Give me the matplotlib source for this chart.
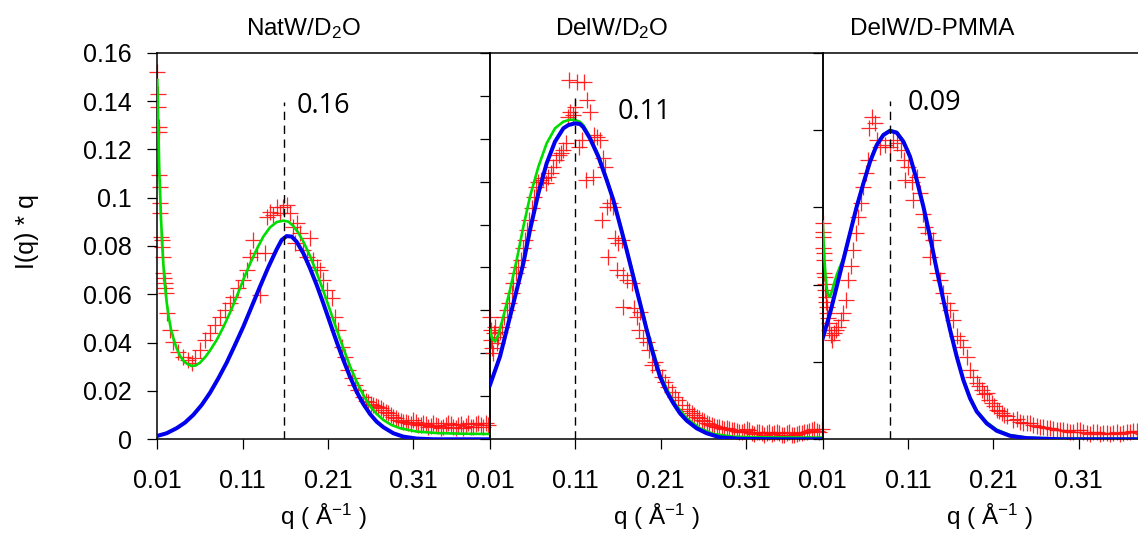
import matplotlib
matplotlib.use("Agg")
import matplotlib.pyplot as plt

plt.rcParams["font.family"] = ["Liberation Sans", "DejaVu Sans"]
plt.rcParams["mathtext.fontset"] = "custom"
plt.rcParams["mathtext.rm"] = "Liberation Sans"
plt.rcParams["mathtext.it"] = "Liberation Sans:italic"

# ---- NatW / D2O ----
natw_q = [0.010, 0.0108, 0.0112, 0.0116, 0.012, 0.0123, 0.0127, 0.0131, 0.0135, 0.0143,
          0.0151, 0.0155, 0.0163, 0.017, 0.0178, 0.0186, 0.0194, 0.0202, 0.0209, 0.0248,
          0.0288, 0.0346, 0.0405, 0.0463, 0.0503, 0.0542, 0.060, 0.0659, 0.0717, 0.0776,
          0.0835, 0.0893, 0.0952, 0.0991, 0.105, 0.1108, 0.1147, 0.1186, 0.1225, 0.1265,
          0.1304, 0.1362, 0.1382, 0.1421, 0.146, 0.150, 0.1538, 0.1577, 0.1616, 0.1655,
          0.1694, 0.1714, 0.1733, 0.1773, 0.1812, 0.1851, 0.189, 0.1929, 0.1968, 0.2007,
          0.2046, 0.2085, 0.2144, 0.2183, 0.2222, 0.2261, 0.230, 0.2339, 0.2378, 0.2417,
          0.2456, 0.2515, 0.2574, 0.2632, 0.2691, 0.275, 0.2808, 0.2867, 0.2925, 0.2984,
          0.3043, 0.3101, 0.316, 0.3218, 0.3277, 0.3336, 0.3394, 0.3453, 0.3512, 0.357,
          0.3629, 0.3687, 0.3746, 0.3805, 0.3863, 0.3922, 0.398,
          0.2545, 0.2603, 0.2662, 0.272, 0.2779, 0.2838, 0.2896, 0.2955, 0.3013, 0.3072,
          0.313, 0.3189, 0.3248, 0.3306, 0.3365, 0.3424, 0.3482, 0.3541, 0.360, 0.3658,
          0.3717, 0.3776, 0.3834, 0.3893, 0.3951]
natw_I = [0.152, 0.143, 0.1377, 0.1294, 0.1273, 0.1094, 0.1046, 0.0977, 0.0935, 0.0839,
          0.0825, 0.0797, 0.0756, 0.0687, 0.0666, 0.0646, 0.0625, 0.0604, 0.0521, 0.0452,
          0.0404, 0.0363, 0.0342, 0.0328, 0.0314, 0.0335, 0.037, 0.0411, 0.0439, 0.0473,
          0.0508, 0.0535, 0.0563, 0.059, 0.0625, 0.066, 0.0701, 0.0756, 0.0825, 0.077,
          0.0598, 0.0771, 0.0921, 0.0942, 0.0928, 0.0963, 0.0935, 0.0963, 0.097, 0.0935,
          0.088, 0.0811, 0.0894, 0.0852, 0.0783, 0.0756, 0.0832, 0.0742, 0.0714, 0.0701,
          0.066, 0.0618, 0.0583, 0.0508, 0.0452, 0.0383, 0.0342, 0.0287, 0.0252, 0.0225,
          0.0204, 0.0177, 0.0156, 0.0142, 0.0135, 0.0121, 0.0108, 0.0094, 0.008, 0.0073,
          0.0066, 0.008, 0.0059, 0.0066, 0.0052, 0.0066, 0.0055, 0.005, 0.0066, 0.0052,
          0.0059, 0.0046, 0.0066, 0.0052, 0.0069, 0.0052, 0.0059,
          0.016, 0.0148, 0.0138, 0.0128, 0.0112, 0.0102, 0.0088, 0.0076, 0.0071, 0.0062,
          0.0072, 0.0058, 0.0063, 0.0056, 0.006, 0.0048, 0.0058, 0.0062, 0.0048, 0.0062,
          0.0056, 0.0049, 0.0064, 0.0058, 0.0066]
natw_fit_q = [0.010, 0.0108, 0.0116, 0.0123, 0.0131, 0.0143, 0.0155, 0.017, 0.019, 0.0209,
              0.0233, 0.026, 0.0288, 0.0327, 0.0366, 0.0405, 0.0452, 0.0503, 0.0553, 0.060,
              0.0659, 0.0717, 0.0796, 0.0874, 0.0952, 0.103, 0.1108, 0.1186, 0.1265, 0.1343,
              0.1421, 0.1499, 0.1577, 0.1636, 0.1694, 0.1753, 0.1812, 0.189, 0.1968, 0.2046,
              0.2124, 0.2202, 0.2281, 0.2359, 0.2437, 0.2515, 0.2593, 0.2671, 0.275, 0.2847,
              0.2945, 0.314, 0.3375, 0.3687, 0.40]
natw_fit_I = [0.1487, 0.1349, 0.124, 0.1114, 0.1032, 0.0921, 0.0825, 0.0728, 0.0639, 0.057,
              0.0508, 0.0455, 0.0418, 0.0377, 0.0345, 0.0326, 0.0312, 0.0303, 0.0306, 0.0317,
              0.0339, 0.0367, 0.0411, 0.0464, 0.0524, 0.059, 0.066, 0.0726, 0.0786, 0.0839,
              0.0877, 0.0899, 0.0905, 0.0901, 0.0883, 0.0855, 0.0818, 0.0759, 0.0689, 0.0615,
              0.0535, 0.0455, 0.0376, 0.0303, 0.0239, 0.0183, 0.0138, 0.0105, 0.008, 0.0059,
              0.0046, 0.0032, 0.0026, 0.0023, 0.0022]
natw_peak_q = [0.010, 0.0209, 0.0327, 0.0424, 0.0522, 0.062, 0.0717, 0.0815, 0.0913, 0.101,
               0.1108, 0.1206, 0.1304, 0.1401, 0.1499, 0.1558, 0.1616, 0.1675, 0.1733, 0.1812,
               0.189, 0.1968, 0.2046, 0.2124, 0.2202, 0.2281, 0.2359, 0.2437, 0.2515, 0.2593,
               0.2671, 0.275, 0.2867, 0.2984, 0.314, 0.3336, 0.40]
natw_peak_I = [0.0014, 0.0025, 0.0046, 0.0069, 0.0101, 0.0142, 0.0192, 0.0252, 0.0317, 0.039,
               0.0466, 0.0549, 0.0632, 0.0712, 0.0786, 0.0825, 0.0841, 0.0839, 0.0818, 0.077,
               0.0708, 0.0639, 0.0563, 0.0483, 0.0404, 0.0328, 0.0259, 0.0197, 0.0146, 0.0105,
               0.0073, 0.005, 0.0025, 0.0011, 0.0003, 0.0, 0.0]

# ---- DelW / D2O ----
delw_q = [0.010, 0.0108, 0.0116, 0.0123, 0.0131, 0.0147, 0.0163, 0.0178, 0.0198, 0.0217,
          0.0237, 0.0264, 0.0295, 0.0327, 0.0354, 0.0374, 0.0405, 0.0432, 0.046, 0.0491,
          0.0514, 0.0538, 0.0561, 0.0588, 0.0616, 0.0639, 0.0667, 0.0694, 0.0725, 0.0757,
          0.0784, 0.0811, 0.0843, 0.0874, 0.0905, 0.0936, 0.096, 0.0991, 0.1014, 0.1038,
          0.103, 0.1069, 0.1096, 0.1124, 0.1147, 0.1175, 0.1202, 0.1225, 0.1241, 0.1272,
          0.1304, 0.1319, 0.135, 0.139, 0.1421, 0.1448, 0.1476, 0.1507, 0.1538, 0.1409,
          0.1565, 0.1605, 0.1644, 0.1487, 0.1585, 0.1663, 0.1702, 0.1761, 0.1663, 0.1788,
          0.182, 0.1859, 0.1851, 0.1898, 0.1937, 0.1968, 0.1995, 0.2034, 0.2073, 0.2113,
          0.2152, 0.2191, 0.223, 0.2269, 0.2308, 0.2347, 0.2406, 0.2464, 0.2523, 0.2581,
          0.264, 0.2699, 0.2757, 0.2816, 0.2875, 0.2933, 0.2992, 0.3051, 0.3109, 0.3168,
          0.3227, 0.3285, 0.3344, 0.3402, 0.3461, 0.352, 0.3578, 0.3637, 0.3696, 0.3754,
          0.3813, 0.3871, 0.393, 0.3989,
          0.2435, 0.2494, 0.2552, 0.2611, 0.267, 0.2728, 0.2787, 0.2845, 0.2904, 0.2963,
          0.3021, 0.308, 0.3139, 0.3197, 0.3256, 0.3315, 0.3373, 0.3432, 0.349, 0.3549,
          0.3608, 0.3666, 0.3725, 0.3784, 0.3842, 0.3901, 0.396]
delw_I = [0.0571, 0.0509, 0.0462, 0.0424, 0.040, 0.0493, 0.0525, 0.0447, 0.0478, 0.0501,
          0.0525, 0.0571, 0.0602, 0.0633, 0.068, 0.0726, 0.0773, 0.0804, 0.0835, 0.0889,
          0.0928, 0.0975, 0.1021, 0.1075, 0.113, 0.1176, 0.120, 0.1207, 0.1215, 0.1192,
          0.1223, 0.1238, 0.1269, 0.130, 0.1324, 0.1331, 0.1347, 0.1378, 0.1502, 0.1525,
          0.1673, 0.151, 0.1549, 0.1665, 0.1363, 0.1394, 0.1665, 0.1207, 0.158, 0.1525,
          0.1223, 0.1417, 0.1409, 0.1394, 0.1308, 0.1269, 0.1083, 0.1099, 0.1083, 0.1021,
          0.0936, 0.0912, 0.0928, 0.085, 0.0788, 0.0765, 0.0742, 0.0726, 0.0618, 0.061,
          0.0571, 0.0594, 0.0509, 0.047, 0.0455, 0.0416, 0.0346, 0.0362, 0.0323, 0.0292,
          0.0268, 0.0245, 0.0222, 0.0199, 0.0183, 0.016, 0.014, 0.0121, 0.0106, 0.009,
          0.0078, 0.0067, 0.0059, 0.0054, 0.0051, 0.0043, 0.004, 0.0036, 0.0047, 0.0031,
          0.0036, 0.0028, 0.0031, 0.0025, 0.0036, 0.002, 0.0028, 0.0019, 0.0025, 0.0031,
          0.0036, 0.0043, 0.004, 0.0047,
          0.013, 0.0114, 0.0098, 0.0084, 0.0072, 0.0062, 0.0057, 0.0049, 0.0046, 0.0044,
          0.0033, 0.0038, 0.0042, 0.0026, 0.0033, 0.0022, 0.0035, 0.0028, 0.003, 0.0022,
          0.0033, 0.0021, 0.0028, 0.0034, 0.0039, 0.0046, 0.0036]
delw_fit_q = [0.010, 0.0123, 0.0159, 0.0198, 0.0256, 0.0334, 0.0413, 0.0491, 0.0569, 0.0667,
              0.0764, 0.0862, 0.096, 0.1037, 0.1096, 0.1155, 0.1194, 0.1272, 0.137, 0.1468,
              0.1624, 0.178, 0.1937, 0.2093, 0.2249, 0.2406, 0.2562, 0.2718, 0.2953, 0.3304,
              0.40]
delw_fit_I = [0.0509, 0.047, 0.0455, 0.0486, 0.0571, 0.0695, 0.0835, 0.099, 0.113, 0.1269,
              0.1378, 0.1448, 0.1479, 0.1488, 0.1487, 0.1478, 0.1463, 0.1409, 0.1324, 0.1215,
              0.1006, 0.0765, 0.0517, 0.030, 0.0175, 0.0098, 0.0051, 0.0025, 0.0012, 0.0009,
              0.0008]
delw_peak_q = [0.010, 0.0217, 0.0374, 0.0491, 0.0569, 0.0667, 0.0764, 0.0862, 0.096, 0.1018,
               0.1096, 0.1155, 0.1194, 0.1272, 0.137, 0.1468, 0.1546, 0.1624, 0.1702, 0.178,
               0.1859, 0.1937, 0.2015, 0.2093, 0.2171, 0.2249, 0.2327, 0.2406, 0.2523, 0.264,
               0.2796, 0.3031, 0.350, 0.40]
delw_peak_I = [0.0253, 0.0385, 0.0633, 0.0819, 0.0975, 0.1145, 0.1285, 0.1386, 0.1448, 0.1463,
               0.1471, 0.1468, 0.1453, 0.1401, 0.1316, 0.1207, 0.1114, 0.0998, 0.0881, 0.0757,
               0.0633, 0.0509, 0.0393, 0.0292, 0.0222, 0.0168, 0.0121, 0.0087, 0.0051, 0.0028,
               0.0009, 0.0002, 0.0, 0.0]

# ---- DelW / D-PMMA ----
pmma_q = [0.010, 0.0104, 0.0108, 0.0108, 0.0112, 0.0116, 0.012, 0.0123, 0.0127, 0.0131,
          0.0135, 0.0139, 0.0147, 0.0155, 0.0163, 0.017, 0.0178, 0.0194, 0.0209, 0.0233,
          0.0256, 0.0284, 0.0311, 0.0342, 0.0374, 0.0401, 0.0428, 0.046, 0.0491, 0.0518,
          0.0546, 0.0577, 0.0608, 0.0635, 0.0674, 0.0647, 0.0714, 0.0733, 0.0772, 0.0831,
          0.0889, 0.0928, 0.0975, 0.1014, 0.1054, 0.1104, 0.1065, 0.1143, 0.1202, 0.1241,
          0.1163, 0.128, 0.130, 0.1339, 0.1397, 0.1358, 0.1437, 0.1476, 0.1515, 0.1554,
          0.1593, 0.1632, 0.1671, 0.171, 0.1749, 0.1788, 0.1827, 0.1866, 0.1905, 0.1964,
          0.2023, 0.2081, 0.214, 0.2199, 0.2257, 0.2335, 0.2414, 0.2492, 0.257, 0.2648,
          0.2726, 0.2804, 0.2882, 0.2961, 0.3039, 0.3117, 0.3195, 0.3273, 0.3351, 0.343,
          0.3508, 0.3586, 0.3664, 0.3742, 0.382, 0.3899, 0.3977,
          0.1935, 0.1994, 0.2052, 0.2111, 0.217, 0.2228,
          0.2374, 0.2453, 0.2531, 0.2609, 0.2687, 0.2765, 0.2843, 0.2921, 0.300, 0.3078,
          0.3156, 0.3234, 0.3312, 0.339, 0.3469, 0.3547, 0.3625, 0.3703, 0.3781, 0.386,
          0.3938]
pmma_I = [0.056, 0.0537, 0.0524, 0.0494, 0.0481, 0.0464, 0.0429, 0.0421, 0.0403, 0.0386,
          0.0369, 0.0356, 0.0343, 0.0326, 0.0313, 0.030, 0.0283, 0.027, 0.0257, 0.0274,
          0.0283, 0.0291, 0.0309, 0.0326, 0.036, 0.0412, 0.0447, 0.049, 0.0533, 0.0576,
          0.061, 0.0653, 0.0688, 0.0722, 0.0834, 0.0804, 0.0817, 0.0774, 0.0757, 0.0761,
          0.0757, 0.0774, 0.0766, 0.0748, 0.0722, 0.0705, 0.0671, 0.0666, 0.0679, 0.0636,
          0.0619, 0.0584, 0.055, 0.0533, 0.0516, 0.0472, 0.0429, 0.0412, 0.0378, 0.0352,
          0.0334, 0.0309, 0.0266, 0.0257, 0.024, 0.0214, 0.0179, 0.0162, 0.0145, 0.0128,
          0.0119, 0.0093, 0.0076, 0.0067, 0.0059, 0.005, 0.0046, 0.0041, 0.0037, 0.0033,
          0.0028, 0.0026, 0.0024, 0.0022, 0.002, 0.0024, 0.0017, 0.002, 0.0014, 0.0016,
          0.0017, 0.0013, 0.002, 0.0022, 0.0017, 0.0019, 0.0021,
          0.0138, 0.0118, 0.0102, 0.0086, 0.0072, 0.0063,
          0.0052, 0.0043, 0.0042, 0.0034, 0.0031, 0.003, 0.0023, 0.0025, 0.0019, 0.0023,
          0.002, 0.0015, 0.0019, 0.0017, 0.0013, 0.0019, 0.0016, 0.0018, 0.0021, 0.0015,
          0.0018]
pmma_fit_q = [0.010, 0.0116, 0.0131, 0.0147, 0.0166, 0.0186, 0.0209, 0.0233, 0.0264, 0.0303,
              0.0342, 0.042, 0.0499, 0.0577, 0.0655, 0.0733, 0.0811, 0.0889, 0.0968, 0.1046,
              0.1124, 0.1202, 0.128, 0.1358, 0.1437, 0.1515, 0.1593, 0.1671, 0.1749, 0.1827,
              0.1905, 0.2023, 0.214, 0.2296, 0.2492, 0.2882, 0.40]
pmma_fit_I = [0.0563, 0.0481, 0.0429, 0.0391, 0.0371, 0.0369, 0.0384, 0.0403, 0.0425, 0.0447,
              0.0468, 0.0534, 0.0603, 0.0664, 0.072, 0.0763, 0.0789, 0.080, 0.0795, 0.0772,
              0.0733, 0.0672, 0.0603, 0.0526, 0.044, 0.0362, 0.0284, 0.0216, 0.0155, 0.0109,
              0.0074, 0.0044, 0.0025, 0.0011, 0.0004, 0.0002, 0.0001]
pmma_peak_q = [0.010, 0.0186, 0.0264, 0.0342, 0.042, 0.0499, 0.0577, 0.0655, 0.0733, 0.0811,
               0.0889, 0.0968, 0.1046, 0.1124, 0.1202, 0.128, 0.1358, 0.1437, 0.1515, 0.1593,
               0.1671, 0.1749, 0.1827, 0.1905, 0.2023, 0.214, 0.2296, 0.2492, 0.2882, 0.40]
pmma_peak_I = [0.0261, 0.0326, 0.0395, 0.0464, 0.0533, 0.0602, 0.0662, 0.0718, 0.0761, 0.0787,
               0.0798, 0.0793, 0.077, 0.0731, 0.0671, 0.0602, 0.0524, 0.0438, 0.036, 0.0283,
               0.0214, 0.0153, 0.0106, 0.0072, 0.0041, 0.0022, 0.0009, 0.0003, 0.0, 0.0]

titles = [r"NatW/D$_2$O", r"DelW/D$_2$O", "DelW/D-PMMA"]
peak_pos = [0.158, 0.110, 0.089]
peak_labels = ["0.16", "0.11", "0.09"]
y_max = [0.16, 0.18, 0.10]
x_ticks = [0.01, 0.11, 0.21, 0.31]
y_tick_labels = ["0", "0.02", "0.04", "0.06", "0.08", "0.1", "0.12", "0.14", "0.16"]

data = [
    (natw_q, natw_I, natw_fit_q, natw_fit_I, natw_peak_q, natw_peak_I),
    (delw_q, delw_I, delw_fit_q, delw_fit_I, delw_peak_q, delw_peak_I),
    (pmma_q, pmma_I, pmma_fit_q, pmma_fit_I, pmma_peak_q, pmma_peak_I),
]

W, H = 1138, 537
fig = plt.figure(figsize=(W / 100, H / 100), dpi=100)

lefts = [157.3, 490.0, 822.7]
pw = 332.7
top, bottom = 52.7, 439.3
title_x = [0.438, 0.367, 0.3285]
# dashed line height and label position (fraction of y range)
dash_top = [0.873, 0.883, 0.875]
lab_x = [0.1734, 0.160, 0.1092]
lab_y = [0.845, 0.828, 0.852]

for i, (left, (q, I, fq, fI, gq, gI)) in enumerate(zip(lefts, data)):
    ax = fig.add_axes([left / W, 1 - bottom / H, pw / W, (bottom - top) / H])
    ax.set_facecolor("none")
    ymax = y_max[i]
    ax.plot(q, I, ls="none", marker="+", ms=11.5, mew=0.9, color="#ff1010",
            alpha=0.9, clip_on=False, zorder=2)
    ax.plot(fq, fI, color="#00dd00", lw=1.9, zorder=3)
    ax.plot(gq, gI, color="#0000ee", lw=2.9, zorder=4)
    ax.plot([peak_pos[i], peak_pos[i]], [0, dash_top[i] * ymax], color="black",
            lw=1.0, ls=(0, (6, 4)), zorder=5)
    ax.text(lab_x[i], lab_y[i] * ymax, peak_labels[i], fontsize=19.5,
            family=["Open Sans", "DejaVu Sans"], va="baseline", ha="left")

    ax.set_xlim(0.01, 0.40)
    ax.set_ylim(0, ymax)
    ax.set_xticks(x_ticks)
    ax.set_xticklabels([f"{t:.2f}" for t in x_ticks])
    n = int(round(ymax / 0.02))
    ax.set_yticks([k * 0.02 for k in range(n + 1)])
    if i == 0:
        ax.set_yticklabels(y_tick_labels)
    else:
        ax.tick_params(labelleft=False)
    ax.tick_params(direction="out", length=7.5, width=0.9, labelsize=18,
                   top=False, right=False)
    ax.tick_params(axis="x", pad=14)
    ax.tick_params(axis="y", pad=11)
    for s in ax.spines.values():
        s.set_linewidth(1.1)
    ax.set_title(titles[i], x=title_x[i], pad=13, fontsize=17.5)
    ax.set_xlabel(r"q ( Å$^{-1}$ )", fontsize=17.5, labelpad=6)

fig.text(27 / W, 1 - 232 / H, "I(q) * q", rotation=90, fontsize=18,
         ha="center", va="center")

fig.savefig("out.png", dpi=100)
